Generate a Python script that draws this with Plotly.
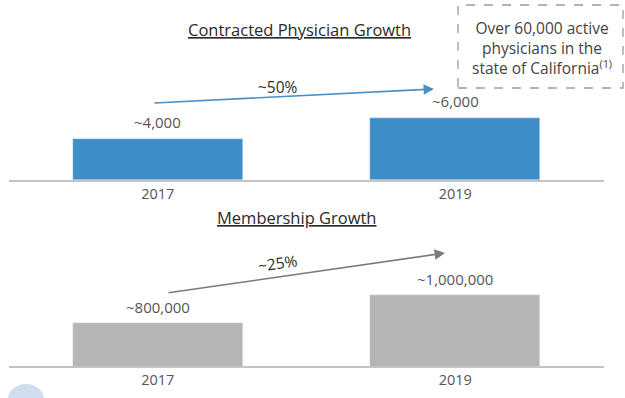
import plotly.graph_objects as go

# ---- data ----
years = ["2017", "2019"]
physicians = [4000, 6000]
physician_labels = ["~4,000", "~6,000"]
members = [800000, 1000000]
member_labels = ["~800,000", "~1,000,000"]
title_top = "Contracted Physician Growth"
title_bottom = "Membership Growth"
growth_top = "~50%"
growth_bottom = "~25%"
note_text = "Over 60,000 active<br>physicians in the<br>state of California<sup>(1)</sup>"

W, H = 625, 398
BLUE = "#3c8dc8"
GRAY = "#b5b5b5"
TXT = "#555555"
FONT = "Open Sans"

def px(x):
    return x / W

def py(y):
    return 1 - y / H

fig = go.Figure()
fig.add_trace(go.Bar(x=years, y=physicians, marker_color=BLUE, width=0.57,
                     xaxis="x", yaxis="y", hoverinfo="skip"))
fig.add_trace(go.Bar(x=years, y=members, marker_color=GRAY, width=0.57,
                     xaxis="x2", yaxis="y2", hoverinfo="skip"))

xdom = [px(9), px(604)]
axis_common = dict(type="category", showgrid=False, zeroline=False, showline=True,
                   linecolor="#c4c4c4", linewidth=2, ticks="",
                   tickfont=dict(family=FONT, size=14.5, color=TXT),
                   range=[-0.5, 1.5], fixedrange=True)
ycommon = dict(showgrid=False, zeroline=False, showline=False, showticklabels=False,
               fixedrange=True)

def ann(**kw):
    d = dict(showarrow=False, xanchor="center", yanchor="middle")
    d.update(kw)
    return d

annotations = []
for i, (y, lab) in enumerate(zip(physicians, physician_labels)):
    annotations.append(ann(x=i, y=y, xref="x", yref="y", text=lab, yshift=17,
                           font=dict(family=FONT, size=15, color=TXT)))
for i, (y, lab) in enumerate(zip(members, member_labels)):
    annotations.append(ann(x=i, y=y, xref="x2", yref="y2", text=lab, yshift=16,
                           font=dict(family=FONT, size=15, color=TXT)))

# titles
annotations.append(ann(x=px(299), y=py(29), xref="paper", yref="paper",
                       text="<u>" + title_top + "</u>",
                       font=dict(family=FONT, size=16.5, color="#2a2a2a")))
annotations.append(ann(x=px(296), y=py(217), xref="paper", yref="paper",
                       text="<u>" + title_bottom + "</u>",
                       font=dict(family=FONT, size=16.5, color="#2a2a2a")))
# growth arrows
annotations.append(dict(x=px(434), y=py(89), ax=153 - 434, ay=103 - 89, xref="paper", yref="paper",
                        axref="pixel", ayref="pixel", text="", showarrow=True,
                        arrowhead=2, arrowsize=1.3, arrowwidth=1.6, arrowcolor="#4a90c2"))
annotations.append(dict(x=px(445), y=py(253), ax=167 - 445, ay=293 - 253, xref="paper", yref="paper",
                        axref="pixel", ayref="pixel", text="", showarrow=True,
                        arrowhead=2, arrowsize=1.3, arrowwidth=1.6, arrowcolor="#7a7a7a"))
annotations.append(ann(x=px(278), y=py(87), xref="paper", yref="paper", text=growth_top,
                       font=dict(family=FONT, size=15.5, color="#2e2e2e")))
annotations.append(ann(x=px(278), y=py(263), xref="paper", yref="paper", text=growth_bottom,
                       textangle=-8, font=dict(family=FONT, size=15.5, color="#2e2e2e")))
# note box text
annotations.append(ann(x=px(542), y=py(48), xref="paper", yref="paper", text=note_text,
                       align="center", font=dict(family=FONT, size=15.5, color="#444444")))

shapes = [
    dict(type="rect", xref="paper", yref="paper", x0=px(458), x1=px(623), y0=py(88), y1=py(5),
         line=dict(color="#9a9a9a", width=1.3, dash="dash")),
    dict(type="circle", xref="paper", yref="paper", x0=px(8), x1=px(44), y0=py(414), y1=py(384),
         fillcolor="#c3d4ee", line=dict(width=0), opacity=0.8),
]

fig.update_layout(
    width=W, height=H, margin=dict(l=0, r=0, t=0, b=0),
    paper_bgcolor="white", plot_bgcolor="white", showlegend=False,
    xaxis=dict(domain=xdom, anchor="y", **axis_common),
    yaxis=dict(domain=[py(180), py(5)], range=[0, 6000 * 175 / 62], **ycommon),
    xaxis2=dict(domain=xdom, anchor="y2", **axis_common),
    yaxis2=dict(domain=[py(366), py(230)], range=[500000, 500000 + 136 * 500000 / 71], **ycommon),
    annotations=annotations, shapes=shapes, bargap=0,
)

fig.write_html("out.html")
